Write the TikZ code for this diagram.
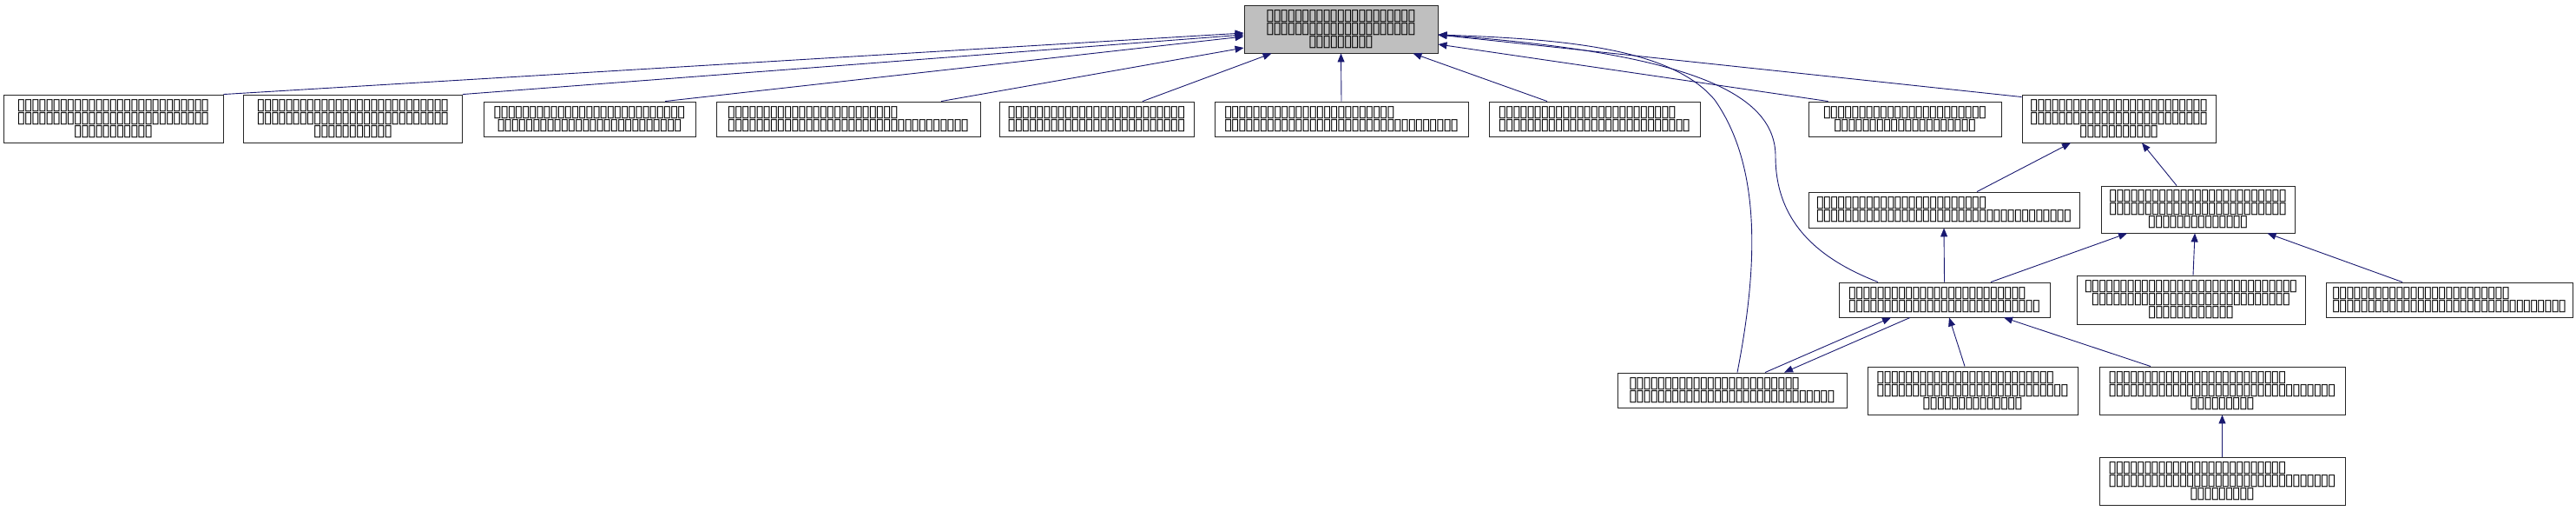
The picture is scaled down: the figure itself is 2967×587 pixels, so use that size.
\documentclass[tikz,border=0pt]{standalone}
\usepackage{fontspec}
\usepackage{tikz}
\usetikzlibrary{arrows.meta}

\newfontfamily\tofufont{DejaVu Sans}
\definecolor{edgeblue}{HTML}{191970}
\definecolor{rootgray}{HTML}{BFBFBF}

% one missing glyph, n of them, and n of them set left in a line of m
\newcommand\tofuglyph{\makebox[8.15pt]{▯}}
\newcommand\tofu[1]{\foreach \k in {1,...,#1}{\tofuglyph}}
\newcommand\tofuL[2]{\makebox[\dimexpr 8.15pt*#2\relax][l]{\tofu{#1}}}

\begin{document}
\begin{tikzpicture}[x=1pt, y=-1pt,
    box/.style={draw=black!85, line width=0.9pt, fill=white, inner sep=0pt,
      align=center, font=\tofufont\fontsize{18.5}{15}\selectfont},
    edge/.style={draw=edgeblue, line width=0.9pt,
      -{Triangle[length=10pt, width=8pt]}}]
      \useasboundingbox (0,0) rectangle (2967,587);

      % Root
      \node[box, fill=rootgray, minimum width=223pt, minimum height=55pt] (root) at (1544.5,33.5)
        {\tofu{21}\\\tofu{21}\\\tofu{9}};

      % Second row
      \node[box, minimum width=253pt, minimum height=55pt] (b1) at (130.5,136.5)
        {\tofu{27}\\\tofu{27}\\\tofu{11}};
      \node[box, minimum width=252pt, minimum height=55pt] (b2) at (406.5,136.5)
        {\tofu{27}\\\tofu{27}\\\tofu{11}};
      \node[box, minimum width=244pt, minimum height=40pt] (b3) at (679,137)
        {\tofu{27}\\\tofu{26}};
      \node[box, minimum width=304pt, minimum height=40pt] (b4) at (977,137)
        {\tofuL{24}{34}\\\tofu{34}};
      \node[box, minimum width=224pt, minimum height=40pt] (b5) at (1263,137)
        {\tofu{25}\\\tofu{25}};
      \node[box, minimum width=292pt, minimum height=40pt] (b6) at (1545,137)
        {\tofuL{24}{33}\\\tofu{33}};
      \node[box, minimum width=243pt, minimum height=40pt] (b7) at (1836.5,137)
        {\tofuL{25}{27}\\\tofu{27}};
      \node[box, minimum width=222pt, minimum height=40pt] (b8) at (2194,137)
        {\tofu{23}\\\tofu{20}};
      \node[box, minimum width=223pt, minimum height=55pt] (b9) at (2440.5,136.5)
        {\tofu{25}\\\tofu{25}\\\tofu{11}};

      % Third row
      \node[box, minimum width=312pt, minimum height=41pt] (r3a) at (2239,241.5)
        {\tofuL{24}{36}\\\tofu{36}};
      \node[box, minimum width=223pt, minimum height=54pt] (r3b) at (2531.5,241)
        {\tofu{25}\\\tofu{25}\\\tofu{14}};

      % Fourth row
      \node[box, minimum width=243pt, minimum height=40pt] (r4a) at (2239.5,345)
        {\tofuL{25}{27}\\\tofu{27}};
      \node[box, minimum width=263pt, minimum height=56pt] (r4b) at (2523.5,345)
        {\tofu{30}\\\tofu{28}\\\tofu{12}};
      \node[box, minimum width=284pt, minimum height=40pt] (r4c) at (2821,345)
        {\tofuL{25}{33}\\\tofu{33}};

      % Fifth row
      \node[box, minimum width=264pt, minimum height=40pt] (r5a) at (1995,449)
        {\tofuL{24}{29}\\\tofu{29}};
      \node[box, minimum width=242pt, minimum height=55pt] (r5b) at (2272,449.5)
        {\tofuL{25}{27}\\\tofu{27}\\\tofu{14}};
      \node[box, minimum width=283pt, minimum height=55pt] (r5c) at (2559.5,449.5)
        {\tofuL{25}{32}\\\tofu{32}\\\tofu{9}};

      % Last row
      \node[box, minimum width=283pt, minimum height=55pt] (r6) at (2559.5,553.5)
        {\tofuL{25}{32}\\\tofu{32}\\\tofu{9}};

      % Edges into the root
      \draw[edge] (b1.north east) -- ([yshift=-4.5pt]root.west);
      \draw[edge] (b2.north east) -- ([yshift=-6.5pt]root.west);
      \draw[edge] ([xshift=87pt]b3.north) -- ([yshift=-8.5pt]root.west);
      \draw[edge] ([xshift=107pt]b4.north) -- ([yshift=-21.5pt]root.west);
      \draw[edge] ([xshift=53pt]b5.north) -- ([xshift=32pt]root.south west);
      \draw[edge] (b6.north) -- (root.south);
      \draw[edge] ([xshift=-54.5pt]b7.north) -- ([xshift=-29pt]root.south east);
      \draw[edge] ([xshift=23pt]b8.north west) -- ([yshift=-17.5pt]root.east);
      \draw[edge] ([yshift=-3pt]b9.north west) -- ([yshift=-6.5pt]root.east);
      \draw[edge] ([xshift=-76.5pt]r4a.north) .. controls (2100,300) and (2045,260) .. (2045,180)
        .. controls (2045,110) and (1955,62) .. ([yshift=-6.5pt]root.east);
      \draw[edge] ([xshift=6pt]r5a.north) .. controls (2020,330) and (2035,200) .. (1975,115)
        .. controls (1925,55) and (1800,45) .. ([yshift=-6.5pt]root.east);

      % Lower edges
      \draw[edge] ([xshift=38pt]r3a.north) -- ([xshift=-55.5pt]b9.south);
      \draw[edge] ([xshift=-24.5pt]r3b.north) -- ([xshift=26.5pt]b9.south);
      \draw[edge] (r4a.north) -- (r3a.south);
      \draw[edge] ([xshift=53.5pt]r4a.north) -- ([xshift=-81.5pt]r3b.south);
      \draw[edge] ([xshift=2.5pt]r4b.north) -- ([xshift=-3.5pt]r3b.south);
      \draw[edge] ([xshift=-54pt]r4c.north) -- ([xshift=80pt]r3b.south);
      \draw[edge] ([xshift=38pt]r5a.north) -- ([xshift=-61.5pt]r4a.south);
      \draw[edge] ([xshift=-39.5pt]r4a.south) -- ([xshift=60pt]r5a.north);
      \draw[edge] ([xshift=-9pt]r5b.north) -- ([xshift=5.5pt]r4a.south);
      \draw[edge] ([xshift=-82.5pt]r5c.north) -- ([xshift=68.5pt]r4a.south);
      \draw[edge] (r6.north) -- (r5c.south);
    \end{tikzpicture}
\end{document}
